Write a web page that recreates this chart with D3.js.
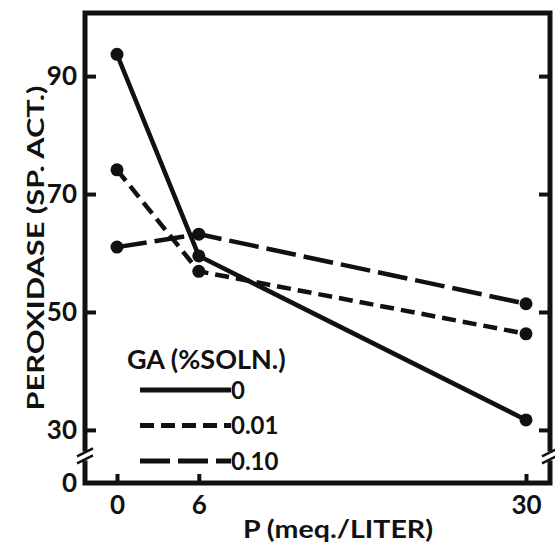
<!DOCTYPE html>
<html>
<head>
<meta charset="utf-8">
<script src="https://cdn.jsdelivr.net/npm/d3@7"></script>
<style>
  body { margin: 0; background: #fff; }
  text { font-family: Lato, "DejaVu Sans", sans-serif; font-weight: 700; fill: #111; }
</style>
</head>
<body>
<div id="wrapper"></div>
<script>
const INK = "#111";
const LINE_WIDTH = 4.5;
const FRAME_WIDTH = 5;
const DOT_RADIUS = 6.5;

// data
const phosphorus = [0, 6, 30];
const seriesNames = ["0", "0.01", "0.10"];
const ga0 = [93.7, 59.5, 31.7];
const ga001 = [74.1, 56.9, 46.3];
const ga010 = [61.0, 63.2, 51.4];
const yTicks = [30, 50, 70, 90];
const xTicks = [0, 6, 30];
const dashes = [null, "14 7", "30 8"];

const series = [ga0, ga001, ga010].map((values, i) => ({
    name: seriesNames[i],
    dash: dashes[i],
    points: phosphorus.map((p, j) => ({ x: p, y: values[j] })),
}));

const dimensions = {
    width: 555,
    height: 550,
    left: 85,
    right: 550,
    top: 13,
    bottom: 483,
};

const svg = d3.select("#wrapper")
    .append("svg")
    .attr("width", dimensions.width)
    .attr("height", dimensions.height);

const xScale = d3.scaleLinear()
    .domain([0, 30])
    .range([117, 526]);

// broken axis: linear from ~21 upward, bottom labelled 0
const yScale = d3.scaleLinear()
    .domain([21, 100.7])
    .range([dimensions.bottom, dimensions.top]);

// ticks
const leftAxis = svg.append("g")
    .attr("transform", `translate(${dimensions.left},0)`)
    .call(d3.axisLeft(yScale).tickValues(yTicks).tickSize(-11).tickPadding(8));

const rightAxis = svg.append("g")
    .attr("transform", `translate(${dimensions.right},0)`)
    .call(d3.axisRight(yScale).tickValues(yTicks).tickSize(-11).tickFormat(""));

const bottomAxis = svg.append("g")
    .attr("transform", `translate(0,${dimensions.bottom})`)
    .call(d3.axisBottom(xScale).tickValues(xTicks).tickSize(-9).tickPadding(13));

[leftAxis, rightAxis, bottomAxis].forEach(a => {
    a.select(".domain").remove();
    a.selectAll(".tick line").attr("stroke", INK).attr("stroke-width", 4);
    a.selectAll("text").attr("fill", INK).style("font-size", "26px");
});

// "0" at the foot of the broken axis
svg.append("text")
    .attr("x", dimensions.left - 8)
    .attr("y", dimensions.bottom)
    .attr("dy", "0.35em")
    .attr("text-anchor", "end")
    .style("font-size", "26px")
    .text("0");

// frame
svg.append("rect")
    .attr("x", dimensions.left)
    .attr("y", dimensions.top)
    .attr("width", dimensions.right - dimensions.left)
    .attr("height", dimensions.bottom - dimensions.top)
    .attr("fill", "none")
    .attr("stroke", INK)
    .attr("stroke-width", FRAME_WIDTH);

// axis break marks
const breakY = yScale(25.5);
[dimensions.left, dimensions.right].forEach(x => {
    svg.append("rect")
        .attr("x", x - 5)
        .attr("y", breakY - 5)
        .attr("width", 10)
        .attr("height", 9)
        .attr("fill", "#fff");
    [-4, 3].forEach(off => {
        svg.append("line")
            .attr("x1", x - 8).attr("y1", breakY + off + 4)
            .attr("x2", x + 8).attr("y2", breakY + off - 4)
            .attr("stroke", INK)
            .attr("stroke-width", 2.5);
    });
});

// series
const line = d3.line()
    .x(d => xScale(d.x))
    .y(d => yScale(d.y));

const seriesGroups = svg.append("g")
    .selectAll("g")
    .data(series)
    .join("g");

seriesGroups.append("path")
    .attr("d", d => line(d.points))
    .attr("fill", "none")
    .attr("stroke", INK)
    .attr("stroke-width", LINE_WIDTH)
    .attr("stroke-dasharray", d => d.dash);

seriesGroups.selectAll("circle")
    .data(d => d.points)
    .join("circle")
    .attr("cx", d => xScale(d.x))
    .attr("cy", d => yScale(d.y))
    .attr("r", DOT_RADIUS)
    .attr("fill", INK);

// legend
const legend = svg.append("g");

legend.append("text")
    .attr("x", 127)
    .attr("y", 369)
    .style("font-size", "27px")
    .text("GA (%SOLN.)");

const legendRows = legend.selectAll("g")
    .data(series)
    .join("g")
    .attr("transform", (d, i) => `translate(0,${390 + i * 35.5})`);

legendRows.append("line")
    .attr("x1", 140)
    .attr("x2", 231)
    .attr("stroke", INK)
    .attr("stroke-width", LINE_WIDTH + 0.5)
    .attr("stroke-dasharray", d => d.dash);

legendRows.append("text")
    .attr("x", 231)
    .attr("dy", "0.36em")
    .style("font-size", "24px")
    .text(d => d.name);

// axis titles
svg.append("text")
    .attr("x", 338)
    .attr("y", 538)
    .attr("text-anchor", "middle")
    .attr("textLength", 190)
    .attr("lengthAdjust", "spacingAndGlyphs")
    .style("font-size", "25px")
    .text("P (meq./LITER)");

svg.append("text")
    .attr("transform", "translate(44,248) rotate(-90)")
    .attr("text-anchor", "middle")
    .attr("textLength", 325)
    .attr("lengthAdjust", "spacingAndGlyphs")
    .style("font-size", "23px")
    .text("PEROXIDASE (SP. ACT.)");
</script>
</body>
</html>
